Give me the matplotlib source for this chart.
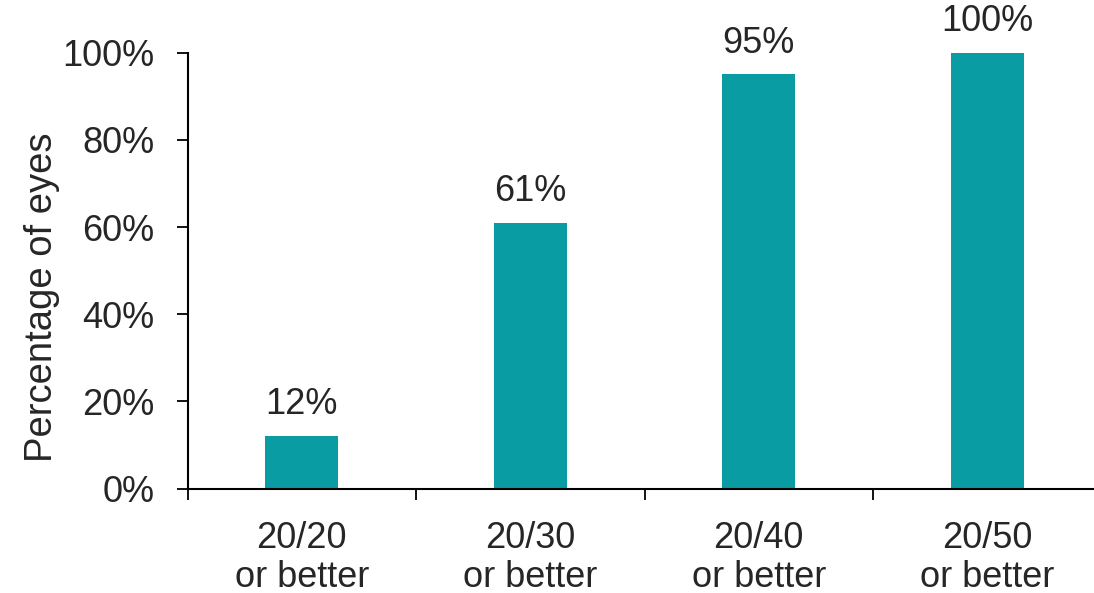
import matplotlib
matplotlib.use("Agg")
import matplotlib.pyplot as plt
from matplotlib.ticker import FixedLocator, FuncFormatter

# Share of eyes reaching each visual acuity threshold
categories = ["20/20\nor better", "20/30\nor better", "20/40\nor better", "20/50\nor better"]
percent_eyes = [12, 61, 95, 100]
y_ticks = [0, 20, 40, 60, 80, 100]

bar_color = "#0A9CA3"
text_color = "#262626"

plt.rcParams["font.family"] = ["Liberation Sans", "DejaVu Sans"]

fig = plt.figure(figsize=(10.94, 5.93), dpi=100)
ax = fig.add_axes([0.1714, 0.1759, 0.8355, 0.7353])

x = list(range(len(categories)))
bars = ax.bar(x, percent_eyes, width=0.32, color=bar_color, zorder=2)

for rect, val in zip(bars, percent_eyes):
    ax.annotate(f"{val}%", (rect.get_x() + rect.get_width() / 2, val),
                xytext=(0, 10), textcoords="offset points",
                ha="center", va="bottom", fontsize=26, color=text_color)

ax.set_xlim(-0.5, len(categories) - 0.5)
ax.set_ylim(0, 100)

# labels sit at bar centres, tick marks sit between categories
ax.set_xticks(x)
ax.set_xticklabels(categories, fontsize=26, color=text_color, linespacing=1.15)
ax.tick_params(axis="x", which="major", length=0, pad=23)
ax.xaxis.set_minor_locator(FixedLocator([i - 0.5 for i in range(len(categories) + 1)]))
ax.tick_params(axis="x", which="minor", length=8, width=1.3, direction="out", color="black")

ax.set_yticks(y_ticks)
ax.yaxis.set_major_formatter(FuncFormatter(lambda v, p: f"{int(v)}%"))
ax.tick_params(axis="y", length=8, width=1.3, direction="out", pad=16,
               labelsize=26, labelcolor=text_color)

ax.set_ylabel("Percentage of eyes", fontsize=27.5, color=text_color)
ax.yaxis.set_label_coords(-0.139, 0.44)

for side in ("top", "right"):
    ax.spines[side].set_visible(False)
for side in ("left", "bottom"):
    ax.spines[side].set_linewidth(1.5)

fig.savefig("out.png", dpi=100)
